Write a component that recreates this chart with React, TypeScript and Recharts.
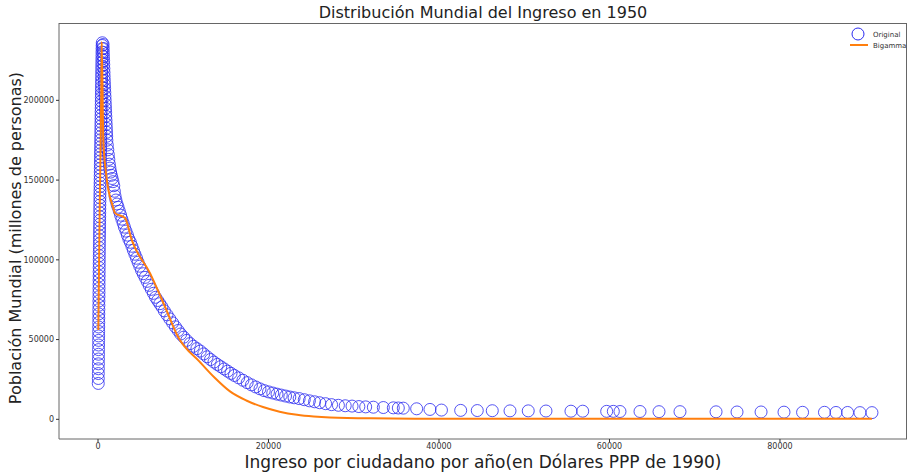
import { ComposedChart, Line, Scatter, XAxis, YAxis } from 'recharts';

type Punto = [number, number];

// columna inicial (ingreso bajo, población creciente)
const columnaOriginal: Punto[] = [
  [30, 22500], [35, 25600], [40, 28700], [45, 31700], [50, 34800], [55, 37800], [60, 40800], [64, 43700],
  [68, 46600], [72, 49500], [76, 52300], [80, 55100], [84, 57900], [88, 60700], [92, 63400], [96, 66100],
  [100, 68800], [104, 71500], [108, 74200], [112, 76900], [116, 79500], [120, 82100], [124, 84700], [128, 87300],
  [132, 89900], [136, 92500], [140, 95100], [144, 97600], [148, 100100], [152, 102600], [156, 105100], [160, 107600],
  [165, 110100], [170, 112600], [175, 115100], [180, 117500], [185, 119900], [190, 122300], [195, 124700], [200, 127100],
  [205, 129500], [210, 131900], [215, 134300], [220, 136700], [225, 139000], [230, 141300], [236, 143600], [242, 145900],
  [248, 148200], [254, 150500], [260, 152800], [266, 155100], [272, 157400], [278, 159700], [284, 162000], [290, 164300],
  [296, 166500], [302, 168700], [308, 170900], [314, 173100], [320, 175300], [326, 177500], [332, 179700], [338, 181900],
  [344, 184100], [350, 186300], [356, 188500], [362, 190700], [368, 192900], [374, 195100], [380, 197300], [386, 199500],
  [392, 201700], [398, 203900], [404, 206100], [410, 208300], [416, 210500], [422, 212700], [428, 214900], [434, 217100],
  [440, 219300], [446, 221500], [452, 223700], [458, 225900], [464, 228100], [470, 230300], [478, 232400], [488, 234400],
  [500, 236100],
];

// caída desde el máximo
const caidaOriginal: Punto[] = [
  [600, 235000], [615, 232500], [630, 230000], [645, 227500], [660, 225000], [675, 222500], [690, 220000], [705, 217500],
  [720, 215000], [740, 212500], [760, 210000], [780, 207500], [800, 205000], [820, 202500], [840, 200000], [860, 197500],
  [880, 195000], [900, 192500], [920, 190000], [940, 187500], [960, 185000], [980, 182500], [1000, 180000], [1020, 177500],
  [1040, 175000], [1090, 172000], [1150, 169000], [1210, 166000], [1270, 163000], [1330, 160000], [1400, 157500],
  [1480, 155000], [1560, 153000], [1650, 151000], [1750, 149000], [1850, 146500], [1920, 143000], [2000, 140000],
  [2100, 137500], [2230, 135000], [2350, 133000], [2500, 130500], [2650, 128000], [2800, 125500], [2950, 123000],
  [3100, 120500], [3280, 118000], [3450, 115500], [3620, 113000], [3800, 111000], [3980, 108500], [4150, 106000],
  [4330, 103500], [4520, 101000], [4700, 98500], [4900, 96000], [5100, 93500], [5300, 91300], [5520, 89000],
  [5760, 86500], [6000, 84000], [6250, 81500], [6500, 79000], [6750, 76500], [7000, 74500], [7250, 72500],
  [7500, 70500], [7780, 68000], [8100, 65500], [8420, 63000], [8750, 60500], [9080, 58000], [9400, 55700],
  [9700, 53500], [10050, 51500], [10400, 49500], [10800, 47500], [11200, 45800], [11600, 44300], [12000, 42800],
  [12400, 41000], [12800, 39200], [13200, 37500], [13600, 35900], [14000, 34400], [14400, 33000], [14800, 31600],
  [15200, 30200], [15600, 28800], [16000, 27500], [16500, 26000], [17000, 24500], [17500, 23000], [18000, 21600],
  [18500, 20300], [19000, 19100], [19500, 18000], [20000, 17200], [20500, 16500], [21000, 15800], [21500, 15200],
  [22000, 14600], [22500, 14000], [23000, 13500], [23600, 13000], [24200, 12300], [24800, 11600], [25400, 11000],
  [26000, 10400], [26700, 9800], [27400, 9200], [28200, 8800], [29000, 8500], [29800, 8300], [30600, 8000],
  [31400, 7800], [32300, 7600], [33470, 7400], [34640, 7200], [35230, 7100], [35810, 7000], [37380, 6600],
  [38940, 6200],
];

// cola de ingresos altos
const colaOriginal: Punto[] = [
  [40290, 5800], [42545, 5600], [44490, 5500], [46250, 5400], [48330, 5300], [50470, 5300], [52550, 5200],
  [55480, 5100], [56860, 5100], [59670, 5000], [60450, 5000], [61230, 4900], [63580, 4900], [65810, 4800],
  [68270, 4800], [72500, 4700], [74960, 4600], [77780, 4600], [80470, 4500], [82650, 4400], [85220, 4400],
  [86570, 4300], [87930, 4300], [89380, 4200], [90790, 4200],
];

const curvaBigamma: Punto[] = [
  [40, 56000], [90, 80000], [150, 110000], [220, 140000], [300, 170000], [370, 200000], [420, 225000], [434, 236600],
  [622, 175100], [938, 154400], [1760, 133100], [1994, 129300], [3167, 126200], [3953, 112500], [6100, 91700],
  [7860, 70600], [9384, 51800], [11965, 35900], [13724, 25900], [15484, 17500], [17400, 11800], [19355, 7700],
  [21300, 4800], [23343, 2800], [25300, 1700], [27214, 1100], [32000, 600], [40000, 400], [60000, 350], [90790, 300],
];

const xTicks = [0, 20000, 40000, 60000, 80000];
const yTicks = [0, 50000, 100000, 150000, 200000];

const toRows = (pts: Punto[]) => pts.map(([ingreso, poblacion]) => ({ ingreso, poblacion }));

const originalData = toRows([...columnaOriginal, ...caidaOriginal, ...colaOriginal]);
const bigammaData = toRows(curvaBigamma);

const BLUE = '#2b2bf0';
const ORANGE = '#ff7f0e';
const FONT = '"DejaVu Sans", sans-serif';

const Ring = (props: any) => (
  <circle cx={props.cx} cy={props.cy} r={6} fill="none" stroke={BLUE} strokeWidth={1} strokeOpacity={0.8} />
);

export default function App() {
  return (
    <div style={{ position: 'absolute', left: 0, top: 0, width: 910, height: 474, background: '#fff', fontFamily: FONT }}>
      <ComposedChart width={910} height={474} margin={{ top: 23, right: 3, bottom: 0, left: 0 }}>
        <XAxis
          type="number"
          dataKey="ingreso"
          domain={[-4575, 94900]}
          ticks={xTicks}
          height={35}
          tickSize={3}
          tickMargin={1}
          allowDataOverflow
          tick={{ fontSize: 8, fill: '#333', fontFamily: FONT }}
          axisLine={{ stroke: '#666' }}
          tickLine={{ stroke: '#333' }}
        />
        <YAxis
          type="number"
          dataKey="poblacion"
          domain={[-12340, 248500]}
          ticks={yTicks}
          width={59}
          tickSize={3}
          tickMargin={2}
          allowDataOverflow
          tick={{ fontSize: 8, fill: '#333', fontFamily: FONT }}
          axisLine={{ stroke: '#666' }}
          tickLine={{ stroke: '#333' }}
        />
        <Scatter name="Original" data={originalData} dataKey="poblacion" shape={Ring} isAnimationActive={false} />
        <Line
          name="Bigamma"
          data={bigammaData}
          dataKey="poblacion"
          type="monotone"
          stroke={ORANGE}
          strokeWidth={2}
          dot={false}
          activeDot={false}
          zIndex={700}
          isAnimationActive={false}
        />
      </ComposedChart>

      {/* marco superior y derecho del área de trazado */}
      <div style={{ position: 'absolute', left: 59, top: 23, width: 848, height: 416, boxSizing: 'border-box', borderTop: '1px solid #666', borderRight: '1px solid #666', pointerEvents: 'none' }} />

      {/* leyenda */}
      <svg width={60} height={26} style={{ position: 'absolute', left: 850, top: 27 }}>
        <circle cx={8} cy={7} r={6} fill="none" stroke={BLUE} strokeWidth={1} />
        <text x={23} y={10} fontSize={7} fill="#333" fontFamily={FONT}>Original</text>
        <line x1={0} x2={18} y1={18} y2={18} stroke={ORANGE} strokeWidth={2} />
        <text x={23} y={21} fontSize={7} fill="#333" fontFamily={FONT}>Bigamma</text>
      </svg>

      <div style={{ position: 'absolute', left: 59, top: 4, width: 848, textAlign: 'center', fontSize: 16, lineHeight: '18px', color: '#222' }}>
        Distribución Mundial del Ingreso en 1950
      </div>
      <div style={{ position: 'absolute', left: 59, top: 452, width: 848, textAlign: 'center', fontSize: 17, lineHeight: '20px', color: '#222' }}>
        Ingreso por ciudadano por año(en Dólares PPP de 1990)
      </div>
      <div
        style={{
          position: 'absolute',
          left: 16 - 200,
          top: 238 - 10,
          width: 400,
          textAlign: 'center',
          fontSize: 16,
          lineHeight: '20px',
          color: '#222',
          transform: 'rotate(-90deg)',
        }}
      >
        Población Mundial (millones de personas)
      </div>
    </div>
  );
}
